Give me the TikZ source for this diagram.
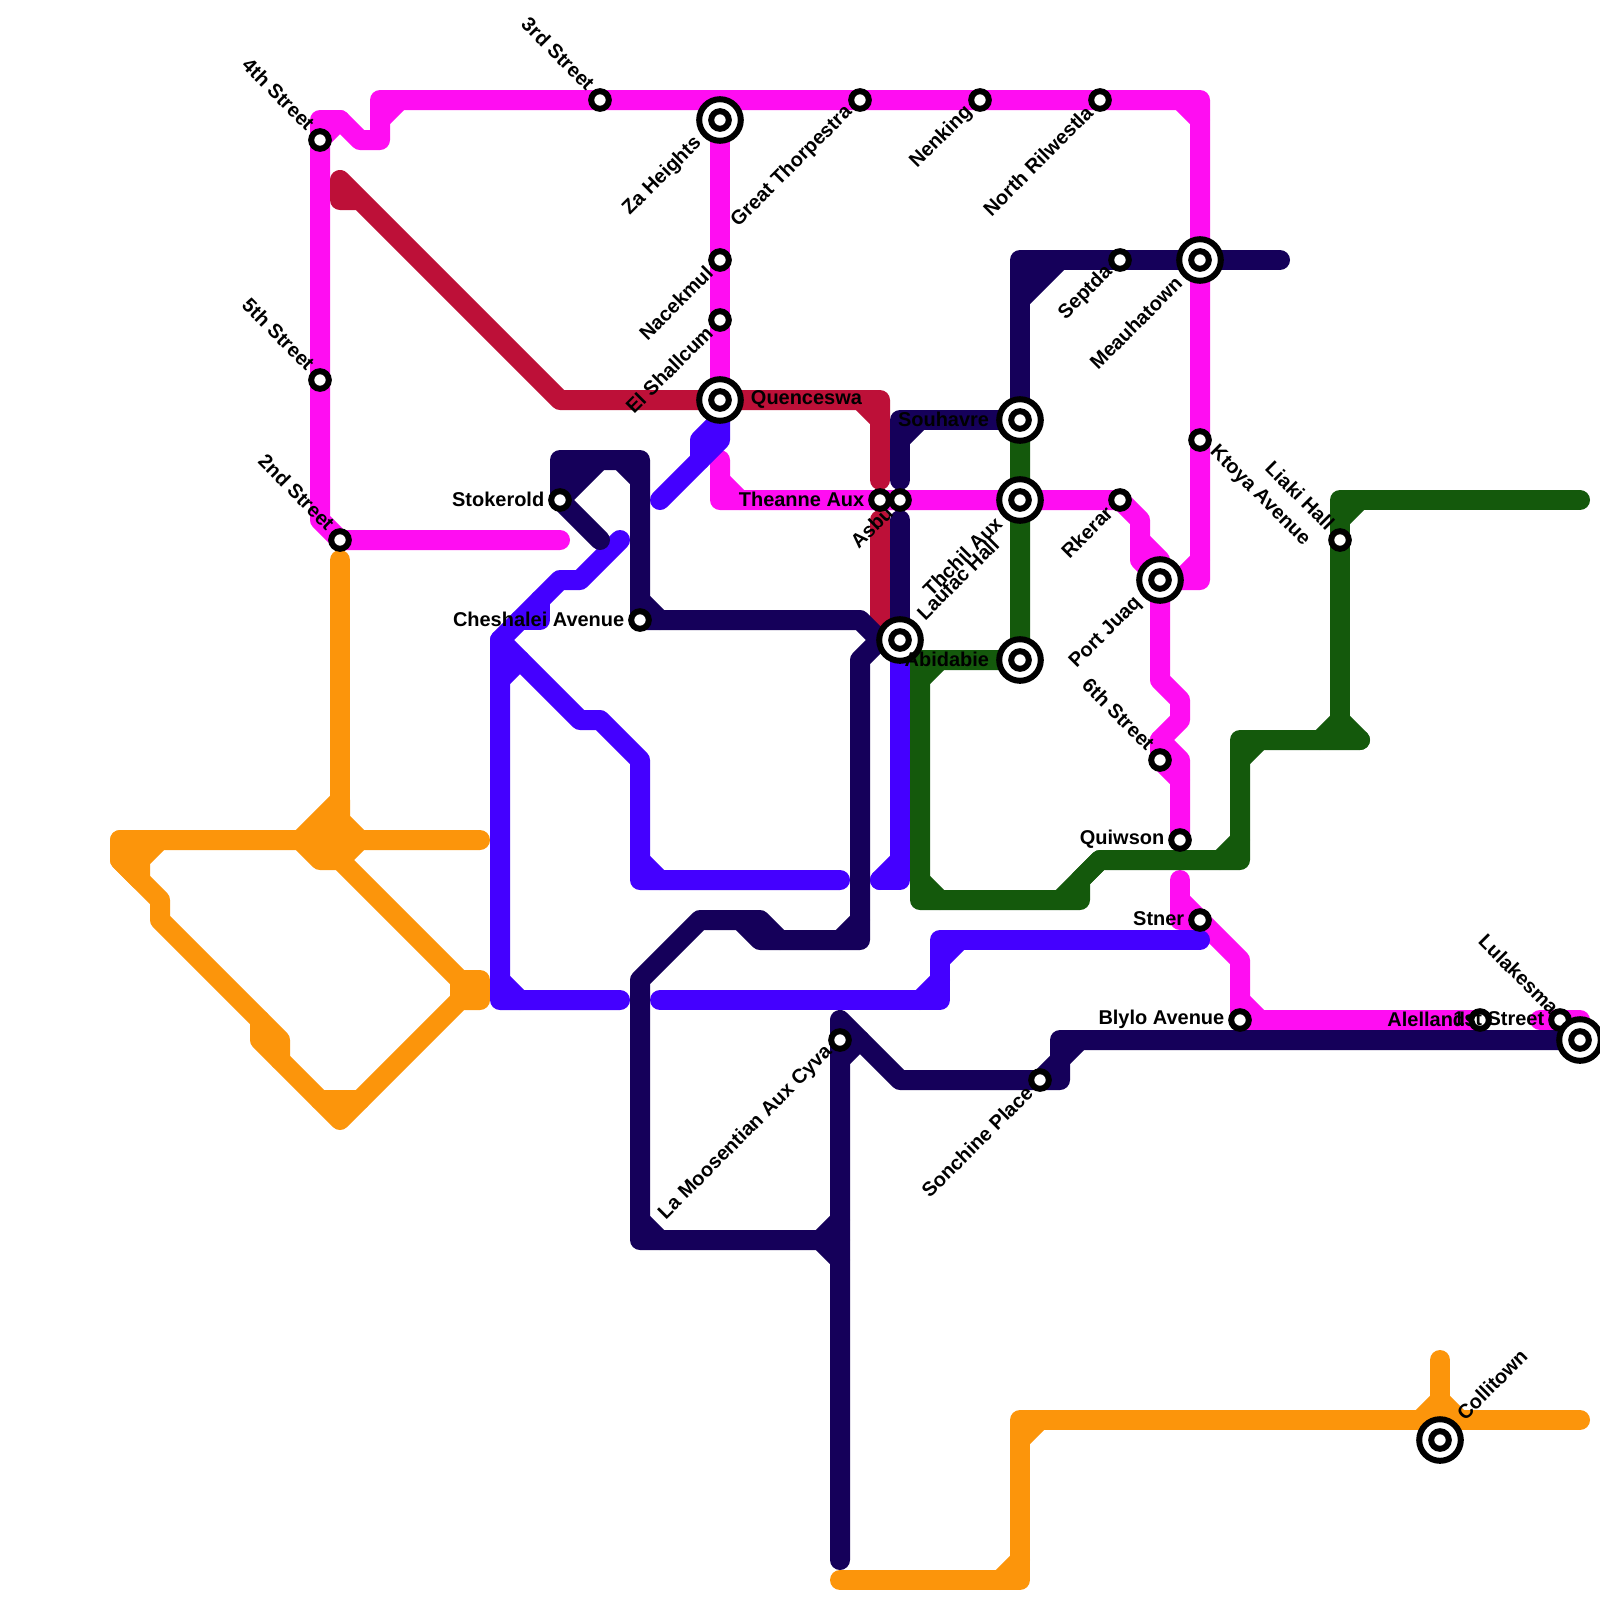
\documentclass[tikz,border=0pt]{standalone}
\usepackage{fontspec}
\setmainfont{Liberation Sans}
\usepackage{xcolor}
\usepackage{tikz}
\usetikzlibrary{backgrounds}

\definecolor{magline}{HTML}{FF0DF2}
\definecolor{redline}{HTML}{BD1038}
\definecolor{orangeline}{HTML}{FC950B}
\definecolor{blueline}{HTML}{4400FF}
\definecolor{greenline}{HTML}{14590C}
\definecolor{navyline}{HTML}{15005A}

\tikzset{
  metro/.style={line width=.25cm, line cap=round, line join=round},
  stopdot/.style={circle, draw=black, fill=white, line width=.075cm, inner sep=0pt, minimum size=.22cm},
  hubdot/.style={circle, draw=black, fill=white, line width=.075cm, inner sep=0pt, minimum size=.52cm,
    path picture={\draw[line width=.075cm] (path picture bounding box.center) circle (.11cm);}},
  lbl/.style={font=\bfseries\fontsize{7.1}{8.5}\selectfont, inner sep=0pt},
  lblw/.style={lbl, anchor=east, xshift=-.19cm, yshift=.012cm},
  lble/.style={lbl, anchor=west, xshift=.19cm, yshift=.012cm},
  lblnw/.style={lbl, rotate=-45, anchor=east, xshift=-.19cm, yshift=.04cm},
  lblsw/.style={lbl, rotate=45, anchor=east, xshift=-.172cm, yshift=.012cm},
  lblne/.style={lbl, rotate=45, anchor=west, xshift=.19cm, yshift=.03cm},
  lblse/.style={lbl, rotate=-45, anchor=west, xshift=.19cm, yshift=.03cm},
}

\begin{document}
\begin{tikzpicture}[x=.25cm, y=-.25cm]
  \useasboundingbox (0,0) rectangle (80,80);

  % stops
  \node[stopdot] (fourth) at (16,7) {};
  \node[stopdot] (fifth) at (16,19) {};
  \node[stopdot] (second) at (17,27) {};
  \node[stopdot] (third) at (30,5) {};
  \node[stopdot] (thorp) at (43,5) {};
  \node[stopdot] (nenk) at (49,5) {};
  \node[stopdot] (rilw) at (55,5) {};
  \node[stopdot] (nacek) at (36,13) {};
  \node[stopdot] (shall) at (36,16) {};
  \node[stopdot] (septda) at (56,13) {};
  \node[stopdot] (ktoya) at (60,22) {};
  \node[stopdot] (stoke) at (28,25) {};
  \node[stopdot] (chesh) at (32,31) {};
  \node[stopdot] (thean) at (44,25) {};
  \node[stopdot] (asbu) at (45,25) {};
  \node[stopdot] (rkerar) at (56,25) {};
  \node[stopdot] (sixth) at (58,38) {};
  \node[stopdot] (quiw) at (59,42) {};
  \node[stopdot] (stner) at (60,46) {};
  \node[stopdot] (blylo) at (62,51) {};
  \node[stopdot] (alell) at (74,51) {};
  \node[stopdot] (first) at (78,51) {};
  \node[stopdot] (liaki) at (67,27) {};
  \node[stopdot] (moos) at (42,52) {};
  \node[stopdot] (sonch) at (52,54) {};
  \node[hubdot] (zah) at (36,6) {};
  \node[hubdot] (quen) at (36,20) {};
  \node[hubdot] (meau) at (60,13) {};
  \node[hubdot] (souh) at (51,21) {};
  \node[hubdot] (thchil) at (51,25) {};
  \node[hubdot] (laufac) at (45,32) {};
  \node[hubdot] (abid) at (51,33) {};
  \node[hubdot] (juaq) at (58,29) {};
  \node[hubdot] (lula) at (79,52) {};
  \node[hubdot] (colli) at (72,72) {};

  % names
  \node[lblnw] (fourth-t) at (fourth) {4th Street};
  \node[lblnw] (fifth-t) at (fifth) {5th Street};
  \node[lblnw] (second-t) at (second) {2nd Street};
  \node[lblnw] (third-t) at (third) {3rd Street};
  \node[lblnw] (sixth-t) at (sixth) {6th Street};
  \node[lblnw] (liaki-t) at (liaki) {Liaki Hall};
  \node[lblnw, xshift=-.28cm] (lula-t) at (lula) {Lulakesma};
  \node[lblsw] (thorp-t) at (thorp) {Great Thorpestra};
  \node[lblsw] (nenk-t) at (nenk) {Nenking};
  \node[lblsw] (rilw-t) at (rilw) {North Rilwestla};
  \node[lblsw] (nacek-t) at (nacek) {Nacekmul};
  \node[lblsw] (shall-t) at (shall) {El Shallcum};
  \node[lblsw] (septda-t) at (septda) {Septda};
  \node[lblsw] (asbu-t) at (asbu) {Asbu};
  \node[lblsw] (rkerar-t) at (rkerar) {Rkerar};
  \node[lblsw] (moos-t) at (moos) {La Moosentian Aux Cyva};
  \node[lblsw] (sonch-t) at (sonch) {Sonchine Place};
  \node[lblsw, xshift=-.19cm] (zah-t) at (zah) {Za Heights};
  \node[lblsw, xshift=-.19cm] (meau-t) at (meau) {Meauhatown};
  \node[lblsw, xshift=-.19cm] (thchil-t) at (thchil) {Thchil Aux};
  \node[lblsw, xshift=-.19cm] (juaq-t) at (juaq) {Port Juaq};
  \node[lblne, xshift=.19cm] (laufac-t) at (laufac) {Laufac Hall};
  \node[lblne, xshift=.19cm] (colli-t) at (colli) {Collitown};
  \node[lblse] (ktoya-t) at (ktoya) {Ktoya Avenue};
  \node[lblw] (stoke-t) at (stoke) {Stokerold};
  \node[lblw] (chesh-t) at (chesh) {Cheshalei Avenue};
  \node[lblw] (thean-t) at (thean) {Theanne Aux};
  \node[lblw] (quiw-t) at (quiw) {Quiwson};
  \node[lblw] (stner-t) at (stner) {Stner};
  \node[lblw] (blylo-t) at (blylo) {Blylo Avenue};
  \node[lblw, xshift=.15cm] (alell-t) at (alell) {Alellands};
  \node[lblw] (first-t) at (first) {1st Street};
  \node[lblw, xshift=-.19cm] (souh-t) at (souh) {Souhavre};
  \node[lblw, xshift=-.19cm] (abid-t) at (abid) {Abidabie};
  \node[lble, xshift=.19cm] (quen-t) at (quen) {Quenceswa};

  \begin{scope}[on background layer]
    % magenta
    \draw[metro, magline] (28,27) -- (second.center) -- (16,26) -- (fifth.center) -- (fourth.center) -- (16,6) -- (17,6) -- (18,7) -- (19,7) -- (19,5) -- (third.center) -- (thorp.center) -- (nenk.center) -- (rilw.center) -- (60,5) -- (meau.center) -- (ktoya.center) -- (60,29) -- (juaq.center) -- (58,34) -- (59,35) -- (59,36) -- (58,37) -- (sixth.center) -- (59,39) -- (quiw.center);
    \draw[metro, magline] (fourth.center) -- (17,6);
    \draw[metro, magline] (19,6) -- (20,5);
    \draw[metro, magline] (59,5) -- (60,6);
    \draw[metro, magline] (59,29) -- (60,28);
    \draw[metro, magline] (58,37) -- (59,38) -- (59,39);
    \draw[metro, magline] (36,5) -- (zah.center) -- (nacek.center) -- (shall.center) -- (quen.center);
    \draw[metro, magline] (36,23) -- (36,25) -- (thean.center) -- (asbu.center) -- (thchil.center) -- (rkerar.center) -- (57,26) -- (57,28) -- (juaq.center);
    \draw[metro, magline] (36,24) -- (37,25);
    \draw[metro, magline] (57,27) -- (58,28);
    \draw[metro, magline] (59,44) -- (59,46) -- (stner.center);
    \draw[metro, magline] (59,45) -- (62,48) -- (blylo.center) -- (alell.center);
    \draw[metro, magline] (62,50) -- (63,51);
    \draw[metro, magline] (77,51) -- (79,51);
    % red
    \draw[metro, redline] (18,10) -- (17,10) -- (17,9) -- (28,20) -- (quen.center) -- (44,20) -- (44,24);
    \draw[metro, redline] (43,20) -- (44,21);
    \draw[metro, redline] (44,26) -- (44,31) -- (laufac.center);
    % orange
    \draw[metro, orangeline] (17,28) -- (17,43);
    \draw[metro, orangeline] (24,42) -- (6,42) -- (6,43) -- (8,45) -- (8,46) -- (14,52) -- (14,53);
    \draw[metro, orangeline, fill=orangeline] (6,42) -- (8,42) -- (7,43) -- (7,44) -- (6,43) -- cycle;
    \draw[metro, orangeline, fill=orangeline] (15,42) -- (17,40) -- (17,41) -- (18,42) -- (17,43) -- (16,43) -- cycle;
    \draw[metro, orangeline] (17,43) -- (23,49) -- (24,49) -- (24,50) -- (23,50) -- (17,56) -- (13,52) -- (13,51);
    \draw[metro, orangeline] (23,49) -- (23,50);
    \draw[metro, orangeline] (16,55) -- (18,55);
    \draw[metro, orangeline] (42,79) -- (51,79) -- (51,71) -- (79,71);
    \draw[metro, orangeline] (50,79) -- (51,78);
    \draw[metro, orangeline] (51,72) -- (52,71);
    \draw[metro, orangeline] (72,68) -- (colli.center);
    \draw[metro, orangeline] (71,71) -- (72,70) -- (73,71);
    % blue
    \draw[metro, blueline] (31,50) -- (25,50) -- (25,32) -- (28,29) -- (29,29) -- (31,27);
    \draw[metro, blueline] (25,49) -- (26,50);
    \draw[metro, blueline] (26,31) -- (27,31) -- (27,30);
    \draw[metro, blueline] (25,34) -- (26,33);
    \draw[metro, blueline] (25,32) -- (29,36) -- (30,36) -- (32,38) -- (32,44) -- (42,44);
    \draw[metro, blueline] (32,43) -- (33,44);
    \draw[metro, blueline] (44,44) -- (45,44) -- (laufac.center);
    \draw[metro, blueline] (44,44) -- (45,43);
    \draw[metro, blueline] (33,50) -- (47,50) -- (47,47) -- (60,47);
    \draw[metro, blueline] (46,50) -- (47,49);
    \draw[metro, blueline] (47,48) -- (48,47);
    \draw[metro, blueline] (33,25) -- (36,22) -- (quen.center);
    \draw[metro, blueline] (35,23) -- (35,22) -- (36,21);
    % green
    \draw[metro, greenline] (souh.center) -- (thchil.center) -- (abid.center) -- (46,33) -- (46,45) -- (54,45) -- (54,44) -- (55,43) -- (62,43) -- (62,37) -- (68,37);
    \draw[metro, greenline] (46,34) -- (47,33);
    \draw[metro, greenline] (46,44) -- (47,45);
    \draw[metro, greenline] (53,45) -- (55,43);
    \draw[metro, greenline] (61,43) -- (62,42);
    \draw[metro, greenline] (62,38) -- (63,37);
    \draw[metro, greenline] (66,37) -- (67,36) -- (68,37);
    \draw[metro, greenline] (67,36) -- (liaki.center) -- (67,25) -- (79,25);
    \draw[metro, greenline] (67,26) -- (68,25);
    % navy
    \draw[metro, navyline] (64,13) -- (meau.center) -- (septda.center) -- (51,13) -- (souh.center) -- (45,21) -- (45,24);
    \draw[metro, navyline] (51,15) -- (53,13);
    \draw[metro, navyline] (51,14) -- (52,13);
    \draw[metro, navyline] (45,22) -- (46,21);
    \draw[metro, navyline] (45,26) -- (laufac.center);
    \draw[metro, navyline] (30,27) -- (stoke.center) -- (28,23) -- (32,23) -- (chesh.center) -- (43,31) -- (44,32) -- (laufac.center);
    \draw[metro, navyline] (28,25) -- (30,23);
    \draw[metro, navyline] (28,24) -- (29,23);
    \draw[metro, navyline] (31,23) -- (32,24);
    \draw[metro, navyline] (32,30) -- (33,31);
    \draw[metro, navyline] (44,32) -- (43,33) -- (43,47) -- (39,47) -- (38,46) -- (35,46) -- (32,49) -- (32,62) -- (42,62);
    \draw[metro, navyline] (37,46) -- (38,47) -- (39,47);
    \draw[metro, navyline] (42,47) -- (43,46);
    \draw[metro, navyline] (32,61) -- (33,62);
    \draw[metro, navyline] (42,61) -- (41,62) -- (42,63);
    \draw[metro, navyline] (42,78) -- (moos.center) -- (42,51) -- (45,54) -- (sonch.center) -- (53,54) -- (53,52) -- (lula.center);
    \draw[metro, navyline] (42,53) -- (43,52);
    \draw[metro, navyline] (52,54) -- (53,53) -- (54,52);
  \end{scope}
\end{tikzpicture}
\end{document}
